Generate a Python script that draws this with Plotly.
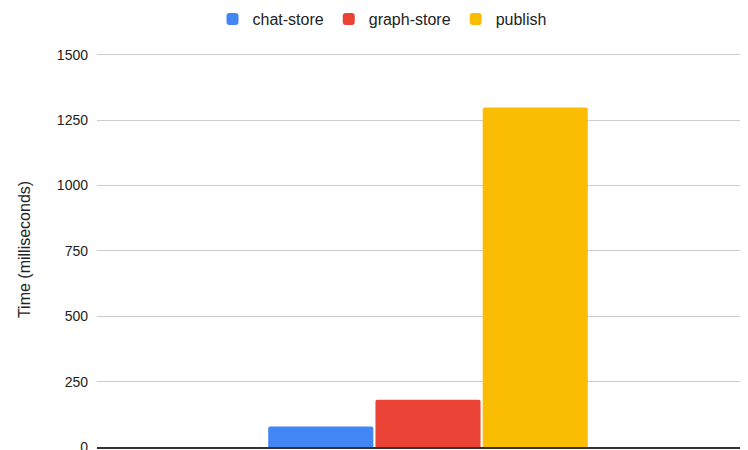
import plotly.graph_objects as go

category = [""]
series_names = ["chat-store", "graph-store", "publish"]
chat_store = [78]
graph_store = [181]
publish = [1298]
colors = ["#4285F4", "#EA4335", "#FBBC04"]
y_ticks = [0, 250, 500, 750, 1000, 1250, 1500]

fig = go.Figure()
for name, vals, col in zip(series_names, [chat_store, graph_store, publish], colors):
    fig.add_trace(go.Bar(x=category, y=vals, name=name, marker=dict(color=col, line=dict(width=0))))

W, H = 751, 442
fig.update_layout(
    width=W, height=H,
    margin=dict(l=89, r=0, t=44, b=3, pad=0),
    plot_bgcolor="white", paper_bgcolor="white",
    font=dict(family="Liberation Sans, Arial, sans-serif", size=14, color="#222222"),
    barmode="group", bargap=0.514, bargroupgap=0.02, barcornerradius=2,
    showlegend=True,
    legend=dict(orientation="h", xref="container", yref="container",
                x=374 / W, xanchor="center", y=1 - 11 / H, yanchor="middle",
                font=dict(size=16), itemwidth=30, traceorder="normal"),
    xaxis=dict(showticklabels=False, showline=True, linecolor="#333333", linewidth=2,
               showgrid=False, ticks="", automargin=False),
    yaxis=dict(range=[0, 1510], tickvals=y_ticks, showgrid=True, gridcolor="#cccccc",
               gridwidth=1, zeroline=False, ticks="", ticklabelstandoff=8,
               ticklabeloverflow="allow", automargin=False,
               title=dict(text="Time (milliseconds)", standoff=22, font=dict(size=16))),
)

fig.write_html("out.html")
